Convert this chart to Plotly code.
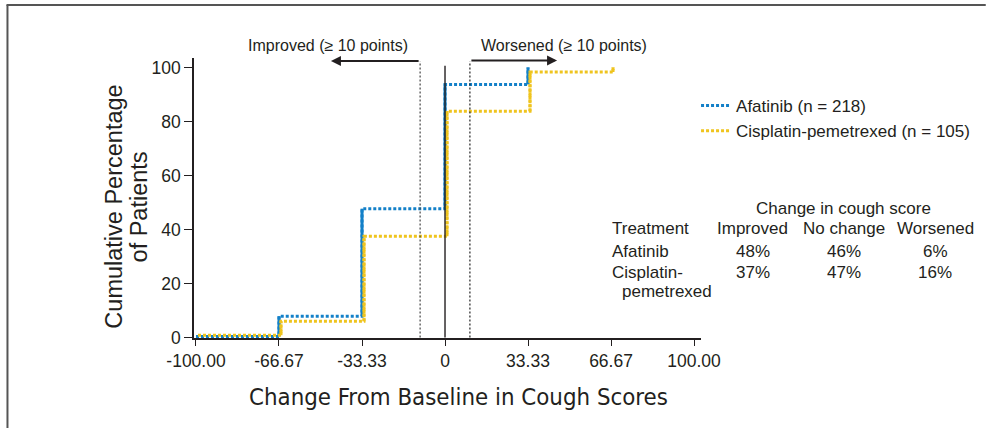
import plotly.graph_objects as go

# Cumulative distribution of change in cough score
score_steps_afatinib = [-100, -66.67, -33.33, 0, 33.33]
cum_pct_afatinib = [0.4, 7.9, 47.7, 93.7, 100]

score_steps_cispem = [-100, -66.67, -33.33, 0, 33.33, 66.67]
cum_pct_cispem = [0.8, 6.0, 37.5, 83.8, 98.3, 100]

x_tickvals = [-100, -66.67, -33.33, 0, 33.33, 66.67, 100]
x_ticktext = ["-100.00", "-66.67", "-33.33", "0", "33.33", "66.67", "100.00"]
y_tickvals = [0, 20, 40, 60, 80, 100]

# Summary table
table_header = ["Treatment", "Improved", "No change", "Worsened"]
table_row_lines = [["Afatinib"], ["Cisplatin-", "pemetrexed"]]
pct_improved = ["48%", "37%"]
pct_no_change = ["46%", "47%"]
pct_worsened = ["6%", "16%"]

BLUE = "#1380c8"
YELLOW = "#efc41e"
INK = "#231f20"
FONT = "Liberation Sans, Arial, sans-serif"
NARROW = "DejaVu Sans Condensed, Liberation Sans Narrow, Liberation Sans, sans-serif"
TXT = 17

# small horizontal nudge so overlapping risers stay visible side by side
CISPEM_NUDGE = 0.8

# plot area geometry (pixels)
W, H = 987, 428
L, R, T, B = 194, 282, 58, 90
PW, PH = W - L - R, H - T - B


def px(xp):
    return (xp - L) / PW


def py(yp):
    return (H - B - yp) / PH


def label(xp, yp, text, size=TXT, family=FONT, xanchor="center", angle=0):
    return dict(x=px(xp), y=py(yp), xref="paper", yref="paper", text=text,
                xanchor=xanchor, yanchor="middle", textangle=angle, showarrow=False,
                font=dict(size=size, color=INK, family=family))


def risers(xs, ys, shift=0.0):
    rx, ry = [], []
    for i in range(1, len(xs)):
        rx += [xs[i] + shift, xs[i] + shift, None]
        ry += [ys[i - 1], ys[i], None]
    return rx, ry


fig = go.Figure()

series = [
    ("Afatinib (n = 218)", score_steps_afatinib, cum_pct_afatinib, BLUE, 0.0, "solid"),
    ("Cisplatin-pemetrexed (n = 105)", score_steps_cispem, cum_pct_cispem, YELLOW,
     CISPEM_NUDGE, "3px,1px"),
]

for i, (name, xs, ys, color, shift, riser_dash) in enumerate(series):
    fig.add_trace(go.Scatter(
        x=[v + shift for v in xs], y=ys, mode="lines", name=name,
        line=dict(color=color, width=3, dash="3px,2px", shape="hv"),
        legendgroup=f"g{i}", hoverinfo="skip",
    ))
    rx, ry = risers(xs, ys, shift)
    fig.add_trace(go.Scatter(
        x=rx, y=ry, mode="lines", showlegend=False, legendgroup=f"g{i}",
        line=dict(color=color, width=3, dash=riser_dash), hoverinfo="skip",
    ))

shapes = [
    dict(type="line", xref="x", yref="y", x0=-10, x1=-10, y0=0, y1=102.3,
         line=dict(color="#444", width=1.2, dash="2px,2px")),
    dict(type="line", xref="x", yref="y", x0=10, x1=10, y0=0, y1=102.3,
         line=dict(color="#222", width=1.2, dash="2px,2px")),
    dict(type="line", xref="x", yref="y", x0=0, x1=0, y0=0, y1=100.6,
         line=dict(color=INK, width=1.4)),
    # outer frame: top and left edges
    dict(type="line", xref="paper", yref="paper", x0=px(5), x1=px(W + 5),
         y0=py(5), y1=py(5), line=dict(color="#555", width=2)),
    dict(type="line", xref="paper", yref="paper", x0=px(6), x1=px(6),
         y0=py(5), y1=py(H + 5), line=dict(color="#555", width=2)),
]

annotations = [
    # direction arrows
    dict(x=-45.8, y=102.4, ax=-10, ay=102.4, xref="x", yref="y", axref="x", ayref="y",
         text="", showarrow=True, arrowhead=2, arrowsize=1, arrowwidth=2, arrowcolor=INK),
    dict(x=45.0, y=102.6, ax=10, ay=102.6, xref="x", yref="y", axref="x", ayref="y",
         text="", showarrow=True, arrowhead=2, arrowsize=1, arrowwidth=2, arrowcolor=INK),
    label(329, 46, "Improved (≥ 10 points)", size=16),
    label(567, 46, "Worsened (≥ 10 points)", size=16),
    # y-axis title in two lines
    label(113, 207, "Cumulative Percentage", size=23.5, angle=-90),
    label(139, 207, "of Patients", size=23.5, angle=-90),
    # x-axis title
    label(461, 397, "Change From Baseline in Cough Scores", size=23.8, family=NARROW),
    # table
    label(849, 208, "Change in cough score"),
]

col_centers = [757, 849, 941]
header_y = 228
row_ys = [251, 272]
line_step = 19
annotations.append(label(613, header_y, table_header[0], xanchor="left"))
for cx, head in zip(col_centers, table_header[1:]):
    annotations.append(label(cx, header_y, head))
for r, ry in enumerate(row_ys):
    for k, line in enumerate(table_row_lines[r]):
        indent = 10 if k > 0 else 0
        annotations.append(label(613 + indent, ry + k * line_step, line, xanchor="left"))
    for cx, val in zip(col_centers, [pct_improved[r], pct_no_change[r], pct_worsened[r]]):
        annotations.append(label(cx, ry, val))

fig.update_layout(
    width=W, height=H,
    margin=dict(l=L, r=R, t=T, b=B),
    paper_bgcolor="white", plot_bgcolor="white",
    font=dict(family=FONT, color=INK),
    showlegend=True,
    legend=dict(x=px(700), y=py(88), xanchor="left", yanchor="top",
                font=dict(size=TXT, color=INK, family=FONT),
                tracegroupgap=0, traceorder="grouped",
                bgcolor="rgba(0,0,0,0)", borderwidth=0),
    xaxis=dict(range=[-100.8, 102.8], tickvals=x_tickvals, ticktext=x_ticktext,
               showgrid=False, zeroline=False, showline=True, linecolor=INK, linewidth=1.5,
               ticks="outside", ticklen=6, tickwidth=1.3, tickcolor=INK,
               tickfont=dict(size=17.5, color=INK, family=FONT)),
    yaxis=dict(range=[-0.2, 103.5], tickvals=y_tickvals,
               showgrid=False, zeroline=False, showline=True, linecolor=INK, linewidth=1.5,
               ticks="outside", ticklen=8, tickwidth=1.3, tickcolor=INK,
               tickfont=dict(size=17.5, color=INK, family=FONT)),
    shapes=shapes,
    annotations=annotations,
)

fig.write_html("out.html")
